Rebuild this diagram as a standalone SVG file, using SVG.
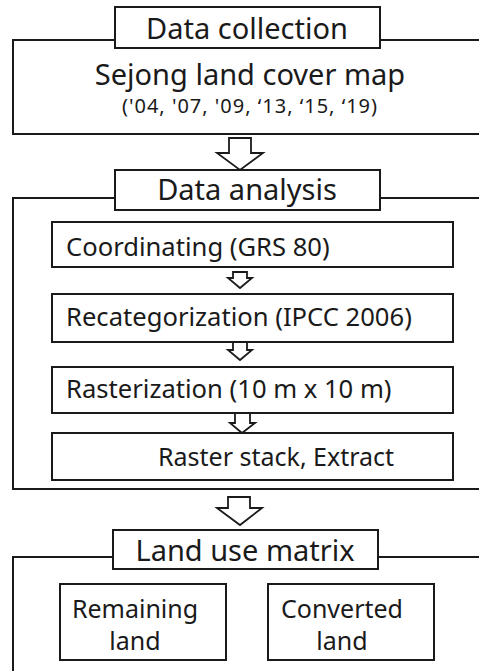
<svg xmlns="http://www.w3.org/2000/svg" width="479" height="671" viewBox="0 0 479 671">
<style>
.box{fill:#fff;stroke:#1a1a1a;stroke-width:2}
.arrow{fill:#fff;stroke:#1a1a1a;stroke-width:1.8;stroke-linejoin:miter}
text{font-family:"Noto Sans","Open Sans","Liberation Sans",sans-serif;fill:#1a1a1a}
.t{font-size:29px;text-anchor:middle}
.s{font-size:25.6px}
.m{font-size:25px;text-anchor:middle}
</style>
<rect width="479" height="671" fill="#fff"/>
<g id="section-collection">
<rect class="box" x="13" y="40" width="480" height="94"/>
<rect class="box" x="115" y="7" width="265" height="41"/>
<text class="t" x="247" y="39">Data collection</text>
<text class="t" x="250" y="85">Sejong land cover map</text>
<text x="250" y="113" font-size="20" letter-spacing="1" text-anchor="middle">('04, '07, '09, ‘13, ‘15, ‘19)</text>
</g>
<g id="section-analysis">
<rect class="box" x="13" y="198" width="480" height="291"/>
<rect class="box" x="115" y="170" width="265" height="40"/>
<text class="t" x="247" y="200">Data analysis</text>
</g>
<g id="coordinating">
<rect class="box" x="52" y="222" width="401" height="45"/>
<text class="s" x="66" y="256">Coordinating (GRS 80)</text>
</g>
<g id="recategorization">
<rect class="box" x="52" y="294" width="401" height="48"/>
<text class="s" x="66" y="326">Recategorization (IPCC 2006)</text>
</g>
<g id="rasterization">
<rect class="box" x="52" y="367" width="401" height="46"/>
<text class="s" x="66" y="398">Rasterization (10 m x 10 m)</text>
</g>
<g id="raster-stack">
<rect class="box" x="52" y="433" width="401" height="47"/>
<text x="158" y="466" font-size="25">Raster stack, Extract</text>
</g>
<g id="section-matrix">
<path class="box" d="M13 672 V557 H495" fill="none"/>
<rect class="box" x="113" y="530" width="265" height="39"/>
<text class="t" x="245" y="561">Land use matrix</text>
</g>
<g id="remaining">
<rect class="box" x="60" y="584" width="166" height="76"/>
<text class="m" x="135" y="618">Remaining</text>
<text class="m" x="135" y="650">land</text>
</g>
<g id="converted">
<rect class="box" x="268" y="584" width="166" height="76"/>
<text class="m" x="342" y="618">Converted</text>
<text class="m" x="342" y="650">land</text>
</g>
<g id="connectors">
<path class="arrow" d="M229 138 H251 V153 H263 L240 170 L217 153 H229 Z"/>
<path class="arrow" d="M233 272 H247 V278 H252 L240 288 L228 278 H233 Z"/>
<path class="arrow" d="M233 342 H247 V350 H252 L240 360 L228 350 H233 Z"/>
<path class="arrow" d="M235 413 H250 V423 H255 L242 433 L230 423 H235 Z"/>
<path class="arrow" d="M228 497 H250 V508 H262 L240 525 L217 508 H228 Z"/>
</g>
</svg>
